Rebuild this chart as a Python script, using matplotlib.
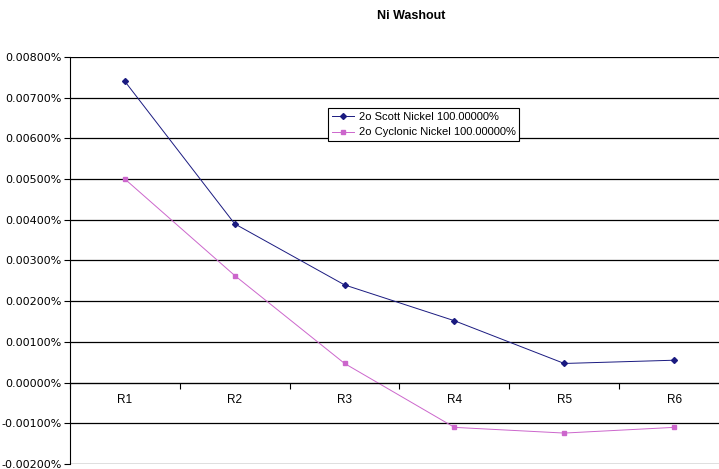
import matplotlib.pyplot as plt
from matplotlib.ticker import FuncFormatter, FixedLocator

# data (values in percent)
runs = ['R1', 'R2', 'R3', 'R4', 'R5', 'R6']
scott = [0.00740, 0.00390, 0.00240, 0.00152, 0.00047, 0.00055]
cyclonic = [0.00500, 0.00263, 0.00047, -0.00110, -0.00124, -0.00110]

fig = plt.figure(figsize=(7.19, 4.69), dpi=100)
ax = fig.add_axes([70 / 719, 1 - 464 / 469, 659 / 719, (464 - 57) / 469])
plt.rcParams['font.family'] = ['Liberation Sans', 'DejaVu Sans']

x = list(range(len(runs)))
ax.plot(x, scott, color='#1a1a80', marker='D', markersize=3, linewidth=0.7,
        label='2o Scott Nickel 100.00000%', clip_on=False)
ax.plot(x, cyclonic, color='#CC66CC', marker='s', markersize=3.5, linewidth=0.7,
        label='2o Cyclonic Nickel 100.00000%', clip_on=False)

ax.set_xlim(-0.5, len(runs) - 0.5)
ax.set_ylim(-0.002, 0.008)
ax.set_yticks([-0.002 + 0.001 * i for i in range(11)])
ax.yaxis.set_major_formatter(FuncFormatter(lambda v, p: f'{v:.5f}%'))
ax.yaxis.grid(True, color='black', linewidth=0.9)
ax.set_axisbelow(True)
ax.tick_params(axis='y', labelsize=8, length=4, pad=2, color='black')

# category axis sits on the zero line
ax.spines['bottom'].set_position(('data', 0))
ax.spines['top'].set_visible(False)
ax.spines['right'].set_visible(False)
ax.xaxis.set_major_locator(FixedLocator([i - 0.5 for i in range(len(runs) + 1)]))
ax.xaxis.set_minor_locator(FixedLocator(x))
ax.set_xticklabels([])
ax.set_xticklabels(runs, minor=True)
ax.tick_params(axis='x', which='major', length=4, color='black')
ax.tick_params(axis='x', which='minor', length=0, labelsize=8.5, pad=8)

fig.text(411 / 719, 1 - 16 / 469, 'Ni Washout', ha='center', va='center',
         fontsize=9, fontweight='bold')

leg = ax.legend(loc='upper left', bbox_to_anchor=(258 / 659, 1 - 51 / 407), fontsize=8,
                frameon=True, fancybox=False, edgecolor='black', framealpha=1,
                borderpad=0.35, labelspacing=0.5, handlelength=2, handletextpad=0.4,
                borderaxespad=0)
leg.get_frame().set_linewidth(0.8)

fig.savefig('out.png', dpi=100)
